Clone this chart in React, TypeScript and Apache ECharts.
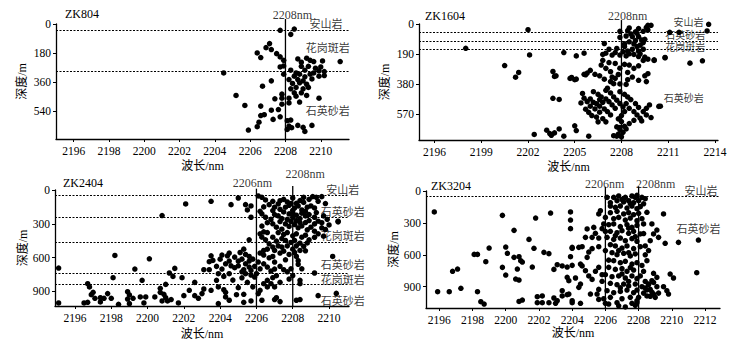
import React, { useEffect, useRef } from "react";
import * as echarts from "echarts";

// ---------- DATA ----------
const panelNames = ["ZK804", "ZK1604", "ZK2404", "ZK3204"];

const xTicks804 = [2196, 2198, 2200, 2202, 2204, 2206, 2208, 2210];
const xTicks1604 = [2196, 2199, 2202, 2205, 2208, 2211, 2214];
const xTicks2404 = [2196, 2198, 2200, 2202, 2204, 2206, 2208, 2210];
const xTicks3204 = [2196, 2198, 2200, 2202, 2204, 2206, 2208, 2210, 2212];

const yTicks804 = [0, 180, 360, 540];
const yTicks1604 = [0, 190, 380, 570];
const yTicks2404 = [0, 300, 600, 900];
const yTicks3204 = [0, 300, 600, 900];

// lithology boundaries (depth, m)
const bounds804 = [41, 290];
const bounds1604 = [53, 111, 160];
const bounds2404 = [47, 245, 466, 738, 841];
const bounds3204 = [47];

// reference wavelengths (nm)
const refLines804 = [2208];
const refLines1604 = [2208];
const refLines2404 = [2206, 2208];
const refLines3204 = [2206, 2208];

// lithology labels: [wavelength, depth, text]
const rocks804: [number, number, string][] = [
  [2210.3, 0, "安山岩"],
  [2210.4, 146, "花岗斑岩"],
  [2210.4, 540, "石英砂岩"],
];
const rocks1604: [number, number, string][] = [
  [2212.3, -10, "安山岩"],
  [2212.1, 72, "石英砂岩"],
  [2212.1, 152, "花岗斑岩"],
  [2212.0, 473, "石英砂岩"],
];
const rocks2404: [number, number, string][] = [
  [2210.75, 0, "安山岩"],
  [2210.75, 195, "石英砂岩"],
  [2210.75, 407, "花岗斑岩"],
  [2210.75, 667, "石英砂岩"],
  [2210.75, 799, "花岗斑岩"],
  [2210.75, 988, "石英砂岩"],
];
const rocks3204: [number, number, string][] = [
  [2211.75, 0, "安山岩"],
  [2211.6, 360, "石英砂岩"],
];

// reference-line captions: [wavelength, depth, text]
const refText804: [number, number, string][] = [[2208.4, -55, "2208nm"]];
const refText1604: [number, number, string][] = [[2208.4, -52, "2208nm"]];
const refText2404: [number, number, string][] = [
  [2205.78, -65, "2206nm"],
  [2208.69, -139, "2208nm"],
];
const refText3204: [number, number, string][] = [
  [2205.96, -63, "2206nm"],
  [2209.03, -63, "2208nm"],
];
// top of each reference line (depth, m)
const refTop804 = [-31];
const refTop1604 = [-25];
const refTop2404 = [-12, -35];
const refTop3204 = [-40, -45];

// scatter points: [wavelength nm, depth m]
const zk804 = [
  [2207.7,39],[2208.5,31],[2208.3,64],[2207.1,121],[2206.9,146],[2207.2,158],[2206.4,179],[2206.6,207],
  [2207.5,183],[2207.7,203],[2207.9,224],[2207.7,265],[2208.7,216],[2209.2,211],[2208.9,236],[2209.4,224],
  [2209.6,232],[2210.1,228],[2211.1,232],[2208.9,261],[2209.3,261],[2209.7,273],[2210.0,265],[2209.9,289],
  [2210.2,294],[2210.2,318],[2204.5,302],[2207.9,310],[2208.3,285],[2208.6,302],[2208.5,322],[2208.8,310],
  [2209.1,285],[2209.1,326],[2209.4,310],[2209.6,302],[2208.2,343],[2208.7,343],[2209.0,351],[2209.5,339],
  [2209.9,322],[2208.4,367],[2208.8,363],[2209.2,372],[2208.6,392],[2209.0,400],[2209.3,392],[2207.2,351],
  [2206.7,384],[2208.3,400],[2208.5,425],[2208.9,425],[2209.2,441],[2209.9,458],[2205.2,441],[2207.4,462],
  [2207.8,433],[2207.8,458],[2208.2,458],[2208.6,446],[2208.8,482],[2205.7,503],[2206.6,507],[2207.8,495],
  [2208.2,487],[2206.6,565],[2207.2,532],[2207.6,528],[2207.7,573],[2207.3,589],[2208.1,597],[2208.3,593],
  [2206.5,606],[2206.4,634],[2205.9,655],[2208.2,630],[2208.35,640],[2208.7,626],[2209.0,638],[2209.1,663],
  [2209.5,626],[2208.1,651],[2207.9,259],[2206.8,560],
];

const zk1604 = [
  [2202.0,36],[2198.0,154],[2202.1,196],[2200.5,263],[2201.4,307],[2201.2,337],
  [2213.6,2],[2213.5,44],[2211.1,53],[2211.7,53],[2212.4,248],[2213.2,233],[2210.8,212],[2210.1,227],[2210.4,522],
  [2203.6,301],[2203.7,332],[2203.8,328],[2203.6,471],[2204.0,478],[2204.3,181],[2204.8,339],[2205.1,349],
  [2205.1,202],[2205.6,185],[2202.4,700],[2203.2,673],[2203.5,705],[2203.7,690],[2204.0,665],[2204.3,711],
  [2205.0,645],[2205.1,675],[2205.9,711],[2207.5,708],[2203.4,694],
  [2207.9,46],[2208.3,76],[2208.4,42],[2208.5,25],[2208.7,80],[2208.9,105],[2209.0,59],[2209.1,80],
  [2209.3,101],[2209.2,134],[2209.0,143],[2208.8,126],[2208.5,113],[2208.2,143],[2208.2,126],[2208.4,172],
  [2208.7,160],[2209.1,172],[2209.4,118],[2209.5,97],[2209.6,21],[2209.7,8],[2209.9,8],[2209.7,38],
  [2209.4,46],[2209.1,29],[2208.9,50],[2208.6,63],[2208.1,176],[2207.9,197],[2208.3,202],[2208.5,189],
  [2208.8,193],[2209.1,206],[2209.2,189],[2209.4,160],[2209.5,210],[2207.9,84],
  [2206.9,124],[2206.8,193],[2207.0,185],[2207.2,160],[2207.4,197],[2207.6,181],[2207.7,155],[2207.2,244],
  [2206.7,260],[2207.0,281],[2207.3,302],[2207.4,336],[2207.3,365],[2207.5,378],[2207.6,344],[2207.1,407],
  [2206.6,328],[2206.3,319],[2206.0,294],[2205.8,311],[2205.6,319],[2205.7,322],[2204.7,345],[2205.0,353],
  [2208.2,256],[2208.5,260],[2208.8,281],[2209.1,265],[2208.4,307],[2208.7,336],[2208.4,353],[2208.3,383],
  [2209.1,357],[2209.5,328],[2209.7,315],[2209.6,365],[2209.4,231],[2210.1,231],[2209.7,223],[2210.8,214],
  [2206.2,429],[2206.5,446],[2206.7,462],[2207.0,475],[2207.2,492],[2207.4,513],[2207.6,534],[2206.6,479],
  [2206.8,496],[2206.4,505],[2206.6,521],[2206.9,538],[2207.1,555],[2207.3,576],[2206.0,475],[2206.2,496],
  [2205.8,492],[2206.0,521],[2206.3,538],[2206.6,559],[2207.0,420],[2207.3,437],[2207.5,462],[2207.7,483],
  [2207.9,504],[2208.1,525],[2207.9,429],[2208.2,446],[2208.4,462],[2208.6,479],[2208.9,504],[2209.1,529],
  [2208.3,504],[2208.5,534],[2208.8,555],[2209.0,576],[2209.2,597],[2209.4,555],[2209.6,534],[2209.8,513],
  [2209.6,576],[2209.9,593],[2210.5,521],[2208.2,555],[2208.0,580],[2207.8,601],[2208.0,618],[2207.7,652],
  [2207.9,656],[2208.2,648],[2207.9,669],[2208.1,686],[2207.8,698],[2208.0,715],[2208.3,665],[2207.7,711],
  [2208.5,631],[2208.8,610],[2209.3,614],
  [2205.5,440],[2205.6,470],[2205.4,500],[2205.7,540],[2205.9,560],[2206.1,580],[2206.4,590],[2206.8,600],
  [2207.0,620],[2206.5,620],[2206.8,230],[2207.6,250],[2207.9,280],[2207.8,320],[2206.9,350],[2207.9,380],
];

const zk2404 = [
  [2202.1,124],[2200.8,227],[2198.2,581],[2200.1,611],[2195.1,693],[2199.3,702],[2201.5,696],[2198.1,779],
  [2199.7,802],[2201.2,737],[2201.4,767],[2201.9,779],[2202.6,820],[2202.3,891],[2202.6,938],[2202.0,938],
  [2201.7,1003],[2195.1,1003],[2196.5,1003],[2196.7,997],[2196.7,832],[2196.8,861],[2197.0,909],[2196.9,929],
  [2197.1,962],[2197.4,956],[2197.4,994],[2197.6,962],[2197.8,920],[2198.0,962],[2198.4,1015],[2198.9,903],
  [2199.0,932],[2198.9,968],[2199.0,1009],[2199.2,962],[2199.6,950],[2199.9,950],[2199.8,1003],[2200.4,950],
  [2200.7,873],[2200.7,909],[2200.9,926],[2201.0,956],[2200.8,985],[2201.1,985],[2201.3,973],[2201.0,838],
  [2203.5,100],[2205.0,71],[2204.6,130],[2205.4,130],[2206.1,53],[2206.3,65],[2206.5,88],[2206.9,100],
  [2207.2,124],[2207.5,83],[2207.7,106],[2208.0,71],[2208.2,118],[2208.4,94],[2208.6,65],[2208.9,83],
  [2209.1,59],[2209.3,65],[2209.6,59],[2205.7,142],[2205.5,177],[2205.7,242],
  [2206.7,130],[2207.0,153],[2207.3,171],[2207.6,153],[2207.8,136],[2208.1,159],[2208.3,142],[2208.5,177],
  [2208.8,153],[2209.0,142],[2209.2,159],[2207.5,195],[2207.8,212],[2208.0,201],[2208.2,224],[2208.5,206],
  [2208.7,230],[2208.9,218],[2209.2,242],[2207.2,230],[2207.4,254],[2207.0,218],[2206.9,183],[2207.7,260],
  [2208.0,242],[2208.2,271],[2208.4,254],[2208.7,289],[2208.9,271],[2209.2,301],[2209.4,277],[2209.6,336],
  [2210.5,277],[2207.6,301],[2207.8,324],[2208.1,307],[2208.3,336],[2208.5,319],[2208.8,354],[2209.0,330],
  [2209.2,366],[2209.4,389],[2207.4,348],[2207.1,330],[2207.2,378],[2207.5,395],[2207.7,378],[2208.0,407],
  [2208.2,389],[2208.5,419],[2208.7,401],[2208.9,442],[2208.1,448],[2207.9,466],[2207.6,448],[2207.4,431],
  [2207.1,454],[2206.9,419],[2207.2,496],[2207.4,507],[2207.7,496],[2208.0,525],[2208.2,496],[2208.4,472],
  [2207.0,537],[2207.3,560],[2207.5,543],[2207.8,572],[2208.1,555],[2208.4,537],
  [2206.2,189],[2206.3,212],[2206.5,242],[2206.4,372],[2206.6,378],[2206.2,389],[2206.3,419],[2206.5,442],
  [2206.7,478],[2206.9,507],[2206.6,525],[2206.4,537],[2206.2,560],[2206.4,578],[2206.7,602],[2206.9,590],
  [2205.6,442],[2205.3,525],[2205.1,555],[2205.4,572],[2205.6,590],[2205.8,614],[2205.6,631],[2205.4,655],
  [2205.2,614],[2205.0,631],[2204.8,596],[2204.5,560],[2204.4,584],[2204.5,631],[2204.3,655],[2204.6,673],
  [2204.8,690],[2205.0,673],[2205.3,708],[2205.6,684],[2205.7,714],[2205.9,678],[2206.0,743],[2205.9,773],
  [2205.7,755],[2205.4,743],[2205.2,726],[2203.5,584],[2203.6,625],[2203.4,637],[2204.0,614],[2204.1,578],
  [2203.8,678],[2204.1,702],[2203.9,743],[2204.2,767],[2204.5,743],[2203.4,708],[2203.1,708],[2203.8,802],
  [2203.9,861],[2204.2,885],[2204.3,909],[2204.3,950],[2203.1,879],[2203.5,891],[2203.0,920],[2202.8,962],
  [2203.9,1009],[2204.5,979],[2205.0,867],[2205.3,926],[2205.3,997],[2205.7,985],[2206.1,920],
  [2206.4,655],[2206.6,684],[2206.8,720],[2207.0,702],[2207.3,678],[2207.5,708],[2207.7,726],[2207.1,761],
  [2206.9,779],[2206.6,802],[2206.4,832],[2206.6,861],[2206.8,832],[2207.0,861],[2207.3,820],[2207.8,791],
  [2208.4,802],[2208.4,832],[2206.2,891],[2206.3,979],[2207.0,973],[2207.1,956],[2207.3,991],[2208.2,979],
  [2208.4,973],[2210.2,590],[2209.2,737],[2209.4,938],[2210.4,918],[2210.5,283],
  [2208.3,628],[2208.0,760],[2208.5,700],[2208.3,660],[2207.9,700],
  [2207.3,95],[2207.9,120],[2208.6,110],[2209.4,100],[2209.8,120],[2208.0,180],[2208.7,190],[2209.3,200],
  [2209.7,230],[2209.9,260],[2209.6,290],[2208.4,290],[2207.9,280],[2207.3,280],[2209.8,350],[2210.0,310],
  [2209.7,410],[2209.2,420],[2208.8,470],[2208.6,500],[2208.7,540],[2208.2,590],[2207.6,620],[2207.0,640],
  [2206.4,150],[2206.6,290],[2206.8,260],[2206.3,320],[2206.9,300],[2205.2,780],[2204.7,800],[2205.5,820],
  [2206.2,700],[2206.1,640],[2205.8,860],[2204.9,930],
];

const zk3204 = [
  [2195.7,197],[2199.8,229],[2201.8,254],[2202.7,207],[2200.5,370],[2203.9,197],[2203.9,273],[2203.9,354],
  [2201.4,455],[2200.0,527],[2199.0,536],[2201.7,539],[2204.0,539],[2198.1,596],[2198.3,596],[2200.1,586],
  [2202.3,577],[2202.6,589],[2200.5,624],[2200.8,618],[2203.9,618],[2198.8,665],[2200.9,655],[2201.0,668],
  [2199.8,718],[2201.6,715],[2203.1,693],[2203.4,705],[2203.7,715],[2204.0,699],[2197.1,734],[2196.8,755],
  [2200.7,734],[2202.9,737],[2200.0,790],[2200.6,828],[2200.8,837],[2203.7,812],[2203.8,843],[2197.3,915],
  [2195.9,947],[2196.6,947],[2198.3,947],[2198.5,1041],[2198.7,1063],[2200.8,1038],[2201.0,1025],[2201.9,994],
  [2202.2,987],[2201.9,1050],[2202.2,1050],[2202.6,1050],[2202.9,1006],[2203.0,1056],[2203.1,1031],[2203.4,987],
  [2203.4,937],[2203.7,975],[2203.8,969],[2204.0,1031],[2204.0,1050],
  [2204.0,530],[2204.4,530],[2204.6,524],[2204.9,357],[2204.8,436],[2205.2,436],[2205.3,342],[2205.4,398],
  [2205.6,442],[2205.6,216],[2205.7,185],[2205.8,354],[2205.9,310],[2205.6,524],[2205.2,542],[2205.0,574],
  [2204.9,624],[2204.5,687],[2204.6,705],[2204.2,818],[2204.5,875],[2204.4,906],[2204.8,749],[2205.0,799],
  [2205.2,831],[2205.4,755],[2205.6,718],[2205.8,787],[2205.8,849],[2205.6,925],[2205.5,969],[2205.1,969],
  [2205.6,1019],[2205.9,1013],[2206.0,1056],[2204.5,1056],
  [2206.1,60],[2206.5,60],[2206.8,47],[2207.2,60],[2207.6,47],[2207.8,60],[2207.9,41],[2208.2,60],
  [2208.4,72],[2206.7,91],[2207.1,103],[2207.4,91],[2207.7,110],[2208.0,91],[2206.3,141],[2206.6,154],
  [2206.9,141],[2207.3,160],[2207.6,141],[2207.9,166],[2208.1,147],[2206.3,204],[2206.7,191],[2207.1,216],
  [2207.4,204],[2207.7,223],[2208.0,210],[2206.0,248],[2206.5,260],[2206.8,248],[2207.2,273],[2207.5,254],
  [2207.9,279],[2208.2,260],[2206.2,317],[2206.5,310],[2206.9,335],[2207.3,317],[2207.6,342],[2207.9,323],
  [2208.3,310],[2206.3,379],[2206.7,392],[2207.0,373],[2207.4,398],[2207.7,379],[2208.1,404],[2206.1,436],
  [2206.5,455],[2206.9,442],[2207.2,467],[2207.6,448],[2207.9,473],[2206.3,505],[2206.6,517],[2207.0,536],
  [2207.3,517],[2207.7,542],[2208.1,524],[2206.4,580],[2206.7,599],[2207.1,586],[2207.5,611],[2207.8,592],
  [2206.5,655],[2206.9,674],[2207.2,661],[2207.6,687],[2207.9,674],[2206.2,718],[2206.6,737],[2207.0,730],
  [2207.3,755],[2207.7,743],[2206.0,787],[2206.4,806],[2206.8,799],[2207.2,818],[2207.6,799],[2207.9,824],
  [2206.3,868],[2206.7,881],[2207.1,875],[2207.4,893],[2207.8,875],[2206.1,937],[2206.5,956],[2206.9,944],
  [2207.3,931],[2207.7,956],[2207.9,931],[2206.3,1000],[2207.0,1013],[2207.5,1000],[2207.9,1031],[2206.2,1063],
  [2206.7,1050],[2207.6,1056],[2207.8,1075],
  [2209.5,216],[2209.1,367],[2210.4,483],[2211.6,461],[2211.5,768],[2209.6,492],[2209.9,781],[2210.1,818],
  [2209.7,937],[2209.8,969],[2208.8,310],[2208.9,404],[2209.2,436],[2208.7,467],[2208.4,517],[2208.5,655],
  [2208.9,774],[2209.1,812],[2208.8,843],[2208.6,875],[2208.4,912],[2208.7,925],[2208.9,969],[2208.5,987],
  [2208.3,755],[2208.1,799],[2208.0,1000],
  [2208.4,850],[2208.6,880],[2208.9,860],[2209.1,900],[2208.5,930],[2208.8,950],[2209.2,960],[2209.5,900],
  [2208.3,960],[2208.7,990],[2209.0,1000],[2208.2,900],
  [2206.3,110],[2207.0,80],[2207.5,120],[2208.3,120],[2208.5,200],[2208.3,400],[2206.0,380],[2206.0,560],
  [2206.2,650],[2207.4,580],[2207.5,720],[2207.0,780],[2207.4,850],[2206.9,910],[2207.9,1050],[2208.2,700],
  [2208.4,600],[2208.6,560],[2206.8,1080],[2207.2,1090],[2206.6,420],[2207.8,430],[2206.8,560],[2207.4,350],
];

// ---------- LAYOUT ----------
const SERIF = "Liberation Serif";
const CJK = "Liberation Serif, Noto Sans CJK SC, sans-serif";

const layouts = [
  { left: 56, top: 24, width: 293, height: 115, xMin: 2195, xMax: 2211.6, yMax: 710, xGap: 21, yGap: 28, tLeft: 65, tTop: 8 },
  { left: 419, top: 24, width: 299, height: 116, xMin: 2195, xMax: 2214.2, yMax: 735, xGap: 21, yGap: 28, tLeft: 425, tTop: 10 },
  { left: 55, top: 190, width: 294, height: 116, xMin: 2194.9, xMax: 2211.1, yMax: 1030, xGap: 22, yGap: 26, tLeft: 63, tTop: 177 },
  { left: 426, top: 191, width: 294, height: 117, xMin: 2195.2, xMax: 2212.9, yMax: 1100, xGap: 19, yGap: 25, tLeft: 431, tTop: 180 },
];

const rockFont = [11, 10, 11, 11];

const panelData = [
  { pts: zk804, xt: xTicks804, yt: yTicks804, b: bounds804, rl: refLines804, rt: refTop804, rx: refText804, rk: rocks804 },
  { pts: zk1604, xt: xTicks1604, yt: yTicks1604, b: bounds1604, rl: refLines1604, rt: refTop1604, rx: refText1604, rk: rocks1604 },
  { pts: zk2404, xt: xTicks2404, yt: yTicks2404, b: bounds2404, rl: refLines2404, rt: refTop2404, rx: refText2404, rk: rocks2404 },
  { pts: zk3204, xt: xTicks3204, yt: yTicks3204, b: bounds3204, rl: refLines3204, rt: refTop3204, rx: refText3204, rk: rocks3204 },
];

function buildOption() {
  const axisLine = { show: true, onZero: false, lineStyle: { color: "#000", width: 1.3 } };
  const plain = (v: number) => String(v);
  const grid: any[] = [];
  const xAxis: any[] = [];
  const yAxis: any[] = [];
  const series: any[] = [];
  const title: any[] = [];

  layouts.forEach((L, i) => {
    const D = panelData[i];
    grid.push({ left: L.left, top: L.top, width: L.width, height: L.height });
    title.push({
      text: panelNames[i], left: L.tLeft, top: L.tTop, padding: 0,
      textStyle: { fontSize: 12, fontFamily: SERIF, fontWeight: "normal", color: "#000" },
    });
    xAxis.push({
      type: "value", gridIndex: i, min: L.xMin, max: L.xMax,
      axisLine,
      axisTick: { show: true, length: 3, inside: false, customValues: D.xt, lineStyle: { color: "#000", width: 1 } },
      axisLabel: { customValues: D.xt, formatter: plain, fontSize: 11.5, fontFamily: SERIF, color: "#000", margin: 6 },
      splitLine: { show: false },
      name: "波长/nm", nameLocation: "middle", nameGap: L.xGap,
      nameTextStyle: { fontSize: 12, fontFamily: CJK, color: "#000" },
    });
    yAxis.push({
      type: "value", gridIndex: i, inverse: true, min: 0, max: L.yMax,
      axisLine,
      axisTick: { show: true, length: 3, customValues: D.yt, lineStyle: { color: "#000", width: 1 } },
      axisLabel: { customValues: D.yt, formatter: plain, fontSize: 11.5, fontFamily: SERIF, color: "#000", margin: 5 },
      splitLine: { show: false },
      name: "深度/m", nameLocation: "middle", nameGap: L.yGap,
      nameTextStyle: { fontSize: 12, fontFamily: CJK, color: "#000" },
    });

    series.push({
      type: "scatter", xAxisIndex: i, yAxisIndex: i, data: D.pts, symbolSize: 5.5,
      itemStyle: { color: "#000", opacity: 1 },
      markLine: {
        silent: true, symbol: "none", animation: false,
        label: { show: false },
        lineStyle: { color: "#000", width: 1, type: [2, 1.5] },
        data: D.b.map((d) => ({ yAxis: d })),
      },
    });

    D.rl.forEach((w, k) => {
      series.push({
        type: "line", xAxisIndex: i, yAxisIndex: i, clip: false, symbol: "none", silent: true,
        data: [[w, D.rt[k]], [w, L.yMax]],
        lineStyle: { color: "#000", width: 1.3 },
      });
    });

    const labelSeries = (items: [number, number, string][], font: string, size: number) => ({
      type: "scatter", xAxisIndex: i, yAxisIndex: i, clip: false, silent: true,
      symbolSize: 1, itemStyle: { color: "transparent" },
      data: items,
      label: {
        show: true, position: "inside", color: "#000", fontSize: size, fontFamily: font,
        formatter: (p: any) => p.data[2],
      },
    });
    series.push(labelSeries(D.rx, SERIF, 12));
    series.push(labelSeries(D.rk, CJK, rockFont[i]));
  });

  return { animation: false, backgroundColor: "#fff", title, grid, xAxis, yAxis, series };
}

export default function App() {
  const ref = useRef<HTMLDivElement>(null);
  useEffect(() => {
    if (!ref.current) return;
    const chart = echarts.init(ref.current, undefined, { renderer: "svg" });
    chart.setOption(buildOption() as any);
    return () => chart.dispose();
  }, []);
  return (
    <div
      ref={ref}
      style={{ position: "fixed", left: 0, top: 0, width: 736, height: 352, background: "#fff" }}
    />
  );
}
